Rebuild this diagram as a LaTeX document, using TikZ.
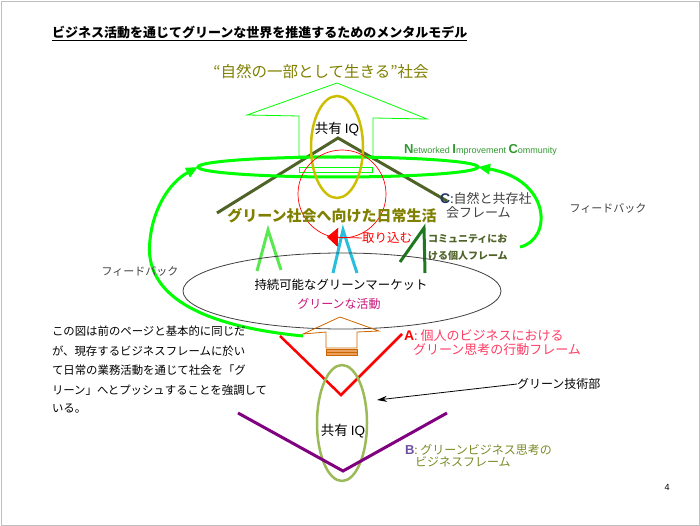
\documentclass[tikz,border=0pt]{standalone}
\usepackage{fontspec}
\setmainfont{Noto Sans CJK JP}
\newfontfamily\latf{Liberation Sans}
\usetikzlibrary{shapes.geometric,arrows.meta}
\definecolor{olive}{RGB}{128,128,0}
\definecolor{bgreen}{RGB}{0,255,0}
\definecolor{yring}{RGB}{204,190,0}
\definecolor{dolive}{RGB}{79,98,40}
\definecolor{lgreen}{RGB}{90,232,80}
\definecolor{cyanA}{RGB}{40,190,220}
\definecolor{forestA}{RGB}{30,120,30}
\definecolor{magT}{RGB}{200,20,120}
\definecolor{orangeA}{RGB}{204,102,0}
\definecolor{lorange}{RGB}{236,160,96}
\definecolor{pinkT}{RGB}{255,60,100}
\definecolor{purpleV}{RGB}{128,0,128}
\definecolor{sage}{RGB}{155,187,89}
\definecolor{Bpurple}{RGB}{112,80,160}
\definecolor{Btext}{RGB}{120,140,40}
\definecolor{nicgreen}{RGB}{51,153,51}
\definecolor{navyC}{RGB}{32,56,100}
\definecolor{grayT}{RGB}{64,64,64}
\begin{document}
\begin{tikzpicture}[x=1pt,y=-1pt,
  txt/.style={inner sep=0pt, outer sep=0pt},
  ring/.style={ellipse, inner sep=0pt, outer sep=0pt},
  fbarc/.style={bgreen, line width=3, -{Triangle[length=12pt,width=10pt]}},
  lam/.style={line width=3, line join=miter}]
\useasboundingbox (0,0) rectangle (700,526);
\draw[gray!50, line width=0.8] (1,1) rectangle (699,525);

% title
\node[txt, anchor=west] (title) at (52,33) {\fontsize{13}{13}\selectfont\bfseries\underline{ビジネス活動を通じてグリーンな世界を推進するためのメンタルモデル}};

\node[txt, text=olive] (society) at (321,72) {\fontsize{15.5}{16}\selectfont “自然の一部として生きる”社会};

% top green house arrow
\draw[bgreen, line width=0.8] (299,156) -- (299,116) -- (247,115) -- (337,83) -- (427,119) -- (373,118) -- (373,156) -- cycle;
\draw[bgreen, line width=0.8] (299,167) rectangle (372,172);

% dark olive lambda
\draw[dolive, lam] (217,213) -- (338,138) -- (447,201);

% NIC ellipse
\node[draw=bgreen, line width=3, ring, minimum width=280, minimum height=20] (nic) at (338,167) {};

% yellow ring
\node[draw=yring, line width=2.5, ring, minimum width=52, minimum height=102] (iqring) at (337,147) {};
\node[txt] (iqtop) at (337,129) {\fontsize{13.5}{14}\selectfont 共有 {\latf IQ}};

% red circle
\node[draw=red, line width=0.7, circle, minimum size=88, inner sep=0pt] (absorb) at (342,194) {};

% NIC text
\node[txt, anchor=west, text=nicgreen] (nictext) at (404,150) {\latf{\fontsize{13}{13}\selectfont\bfseries N}{\fontsize{9}{9}\selectfont etworked }{\fontsize{13}{13}\selectfont\bfseries I}{\fontsize{9}{9}\selectfont mprovement }{\fontsize{13}{13}\selectfont\bfseries C}{\fontsize{9}{9}\selectfont ommunity}};

% C text
\node[txt, anchor=west] (cline1) at (440,199) {{\latf\fontsize{14}{14}\selectfont\bfseries\color{navyC}C}{\fontsize{13}{13}\selectfont\color{grayT}:自然と共存社}};
\node[txt, anchor=west, text=grayT] (cline2) at (446,213) {\fontsize{13}{13}\selectfont 会フレーム};

% daily life
\node[txt, text=olive] (daily) at (332,216) {\fontsize{15}{15}\selectfont\bfseries グリーン社会へ向けた日常生活};

% lambdas
\draw[lgreen, lam] (257,271) -- (268,230) -- (281,270);
\draw[cyanA, lam] (333,273) -- (343,230) -- (357,273);
\draw[forestA, lam] (400,262) -- (424,228) -- (425,273);

% absorb arrow
\node[txt, anchor=west, text=red] (torikomu) at (362,238) {\fontsize{12.5}{13}\selectfont 取り込む};
\coordinate (absorbtip) at (327,237);
\draw[red, line width=0.8, -{Triangle[length=11pt,width=19pt]}] (torikomu.west) -- (absorbtip);

% community text
\node[txt, anchor=west, text=dolive] (comm1) at (428,239) {\fontsize{10}{10}\selectfont\bfseries コミュニティにお};
\node[txt, anchor=west, text=dolive] (comm2) at (428,256) {\fontsize{10}{10}\selectfont\bfseries ける個人フレーム};

% market ellipse
\node[draw=black!75, line width=0.8, ring, minimum width=318, minimum height=76] (market) at (342,291) {};
\node[txt] (mtext) at (341,285) {\fontsize{12.4}{13}\selectfont 持続可能なグリーンマーケット};
\node[txt, text=magT] (gact) at (339,304) {\fontsize{12}{12}\selectfont グリーンな活動};

% orange house arrow
\draw[orangeA, line width=0.8] (326,348) -- (326,332) -- (303,334) -- (340,317) -- (379,331) -- (357,332) -- (357,348) -- cycle;
\draw[orangeA, fill=lorange, line width=0.5] (326,349) rectangle (357,352);
\draw[orangeA, fill=lorange, line width=0.5] (326,352.5) rectangle (357,355.5);

% red V
\draw[red, line width=2.5] (280,336) -- (341,395) -- (402,334);

% feedback arcs
\coordinate (fbL) at (303,336);
\coordinate (fbR) at (520,247);
\draw[fbarc] (fbL) .. controls (200,326) and (143,295) .. (150,240) .. controls (153,208) and (170,182) .. (nic.west);
\draw[fbarc] (fbR) .. controls (552,240) and (552,180) .. (nic.east);
\node[txt, text=grayT] (fbLtext) at (140,271) {\fontsize{11}{11}\selectfont フィードバック};
\node[txt, text=grayT] (fbRtext) at (608,208) {\fontsize{11}{11}\selectfont フィードバック};

% paragraph
\node[txt, anchor=west] (p1) at (52,331) {\fontsize{11.4}{12}\selectfont この図は前のページと基本的に同じだ};
\node[txt, anchor=west] (p2) at (52,351) {\fontsize{11.4}{12}\selectfont が、現存するビジネスフレームに於い};
\node[txt, anchor=west] (p3) at (52,370) {\fontsize{11.4}{12}\selectfont て日常の業務活動を通じて社会を「グ};
\node[txt, anchor=west] (p4) at (52,390) {\fontsize{11.4}{12}\selectfont リーン」へとプッシュすることを強調して};
\node[txt, anchor=west] (p5) at (52,409) {\fontsize{11.4}{12}\selectfont いる。};

% A text
\node[txt, anchor=west] (a1) at (404,336) {{\latf\fontsize{14}{14}\selectfont\bfseries\color{red}A}{\fontsize{13}{13}\selectfont\color{pinkT}: 個人のビジネスにおける}};
\node[txt, anchor=west, text=pinkT] (a2) at (413,350) {\fontsize{13}{13}\selectfont グリーン思考の行動フレーム};

% tech
\node[txt, anchor=west] (tech) at (517,384) {\fontsize{12}{12}\selectfont グリーン技術部};
\coordinate (techtip) at (377,400);
\draw[line width=0.8, -{Stealth[length=10pt,width=6pt]}] (tech.west) -- (techtip);

% bottom ring
\node[draw=sage, line width=2.5, ring, minimum width=50, minimum height=116] (iqring2) at (342,423) {};
\node[txt] (iqbot) at (343,431) {\fontsize{13.5}{14}\selectfont 共有 {\latf IQ}};

% purple V
\draw[purpleV, line width=3] (238,413) -- (343,471) -- (447,413);

% B text
\node[txt, anchor=west] (b1) at (405,450) {{\latf\fontsize{13}{13}\selectfont\bfseries\color{Bpurple}B}{\fontsize{12}{12}\selectfont\color{Btext}: グリーンビジネス思考の}};
\node[txt, anchor=west, text=Btext] (b2) at (415,462) {\fontsize{12}{12}\selectfont ビジネスフレーム};

\node[txt] (pagenum) at (667,487) {\latf\fontsize{9}{9}\selectfont 4};
\end{tikzpicture}
\end{document}
